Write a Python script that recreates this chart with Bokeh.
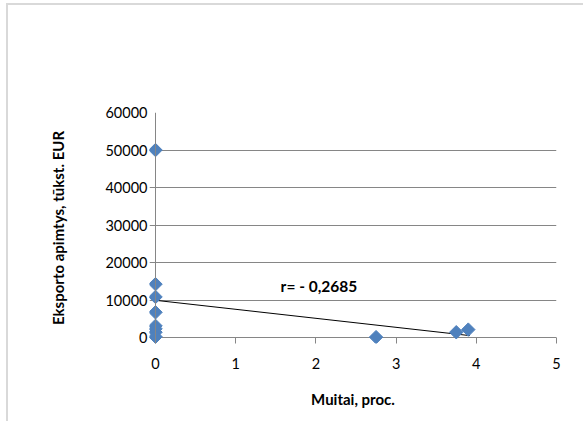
import numpy as np
from bokeh.plotting import figure
from bokeh.models import Range1d, Span, Label, FixedTicker
from bokeh.embed import file_html
from bokeh.resources import INLINE

# Data
muitai = [0, 0, 0, 0, 0, 0, 0, 0, 2.75, 3.75, 3.9]
eksportas = [50000, 14300, 10900, 6800, 3200, 2400, 1500, 300, 200, 1500, 2200]
trend_x = [0, 3.92]
trend_y = [10000, 600]
x_ticks = [0, 1, 2, 3, 4, 5]
y_ticks = [0, 10000, 20000, 30000, 40000, 50000, 60000]
r_text = "r= - 0,2685"

FONT = "Lato"
GRID = "#868686"

p = figure(width=577, height=418, output_backend="svg", toolbar_location=None,
           x_range=Range1d(-0.075, 5), y_range=Range1d(-1500, 60000),
           min_border_left=141, min_border_right=29, min_border_top=107, min_border_bottom=80)
p.outline_line_color = None
p.styles = {"margin-left": "6px", "margin-top": "3px",
            "border-top": "2px solid #d9d9d9", "border-left": "2px solid #d9d9d9"}

# grid
p.xgrid.visible = False
p.ygrid.ticker = FixedTicker(ticks=y_ticks)
p.ygrid.grid_line_color = GRID
p.ygrid.grid_line_width = 1

# y axis
ya = p.yaxis[0]
ya.ticker = FixedTicker(ticks=y_ticks)
ya.axis_line_color = None
ya.major_tick_out = 0
ya.major_tick_in = 0
ya.minor_tick_out = 0
ya.minor_tick_in = 0
ya.major_label_standoff = 2
ya.major_label_text_font = FONT
ya.major_label_text_font_size = "14.5px"
ya.major_label_text_color = "#000000"
ya.axis_label = "Eksporto apimtys, tūkst. EUR"
ya.axis_label_text_font = FONT
ya.axis_label_text_font_style = "bold"
ya.axis_label_text_font_size = "15px"
ya.axis_label_text_color = "#000000"
ya.axis_label_standoff = 35

# x axis
xa = p.xaxis[0]
xa.ticker = FixedTicker(ticks=x_ticks)
xa.axis_line_color = None
xa.major_tick_out = 0
xa.major_tick_in = 6
xa.major_tick_line_color = GRID
xa.minor_tick_out = 0
xa.minor_tick_in = 0
xa.major_label_standoff = 14
xa.major_label_text_font = FONT
xa.major_label_text_font_size = "14.5px"
xa.major_label_text_color = "#000000"
xa.axis_label = "Muitai, proc."
xa.axis_label_text_font = FONT
xa.axis_label_text_font_style = "bold"
xa.axis_label_text_font_size = "15px"
xa.axis_label_text_color = "#000000"
xa.axis_label_standoff = 18

# vertical axis line at x = 0
p.add_layout(Span(location=0, dimension="height", line_color=GRID, line_width=1))

# trend line
p.line(trend_x, trend_y, line_color="#000000", line_width=1)

# points
p.scatter(muitai, eksportas, marker="square", angle=np.pi / 4, size=9.5,
          fill_color="#4F81BD", line_color="#4F81BD")

p.add_layout(Label(x=1.56, y=13870, text=r_text, text_font=FONT, text_font_style="bold",
                   text_font_size="15.5px", text_baseline="middle", text_align="left",
                   text_color="#000000"))

open("out.html", "w").write(file_html(p, INLINE))
